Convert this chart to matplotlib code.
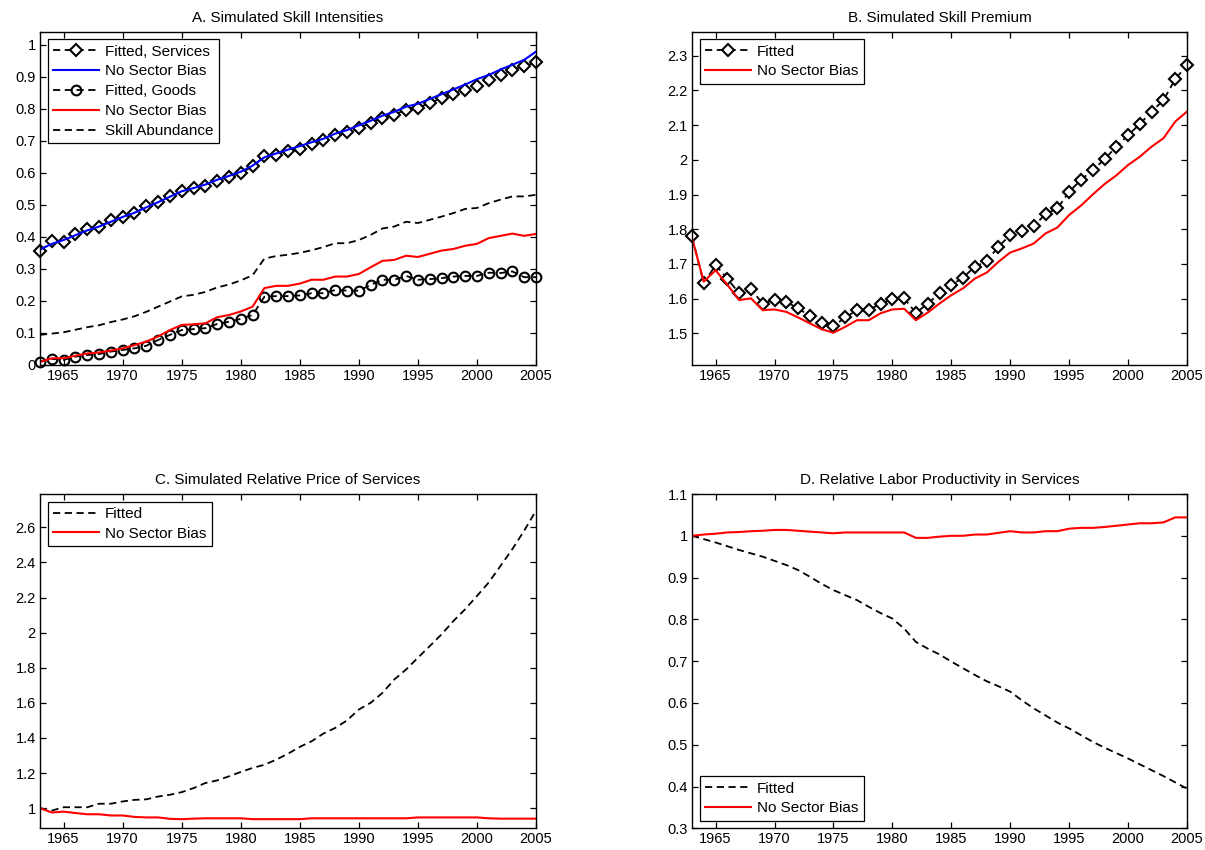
import numpy as np
import matplotlib
matplotlib.use("Agg")
import matplotlib.pyplot as plt
from matplotlib.ticker import FuncFormatter

plt.rcParams["font.family"] = "Liberation Sans"
plt.rcParams["font.size"] = 10.5
plt.rcParams["axes.linewidth"] = 1.0
plt.rcParams["xtick.direction"] = "in"
plt.rcParams["ytick.direction"] = "in"
plt.rcParams["xtick.top"] = True
plt.rcParams["ytick.right"] = True
plt.rcParams["xtick.major.size"] = 4
plt.rcParams["ytick.major.size"] = 4
plt.rcParams["xtick.labelsize"] = 10.5
plt.rcParams["ytick.labelsize"] = 10.5
plt.rcParams["legend.fontsize"] = 11

years = np.arange(1963, 2006)

# A. skill intensities
services_fit = [0.356, 0.387, 0.385, 0.408, 0.424, 0.432, 0.451, 0.461, 0.474, 0.495,
                0.508, 0.526, 0.542, 0.552, 0.559, 0.575, 0.588, 0.599, 0.620, 0.651,
                0.656, 0.667, 0.675, 0.690, 0.701, 0.719, 0.726, 0.740, 0.755, 0.771,
                0.781, 0.797, 0.802, 0.818, 0.833, 0.846, 0.859, 0.870, 0.890, 0.906,
                0.922, 0.932, 0.945]
services_nsb = [0.360, 0.378, 0.390, 0.405, 0.420, 0.432, 0.447, 0.462, 0.475, 0.492,
                0.508, 0.525, 0.542, 0.552, 0.563, 0.578, 0.590, 0.603, 0.622, 0.648,
                0.660, 0.672, 0.683, 0.695, 0.706, 0.722, 0.733, 0.748, 0.762, 0.778,
                0.790, 0.806, 0.815, 0.830, 0.845, 0.860, 0.875, 0.892, 0.905, 0.922,
                0.937, 0.952, 0.978]
goods_fit = [0.010, 0.019, 0.016, 0.026, 0.031, 0.034, 0.042, 0.047, 0.052, 0.060,
             0.078, 0.094, 0.109, 0.112, 0.115, 0.128, 0.135, 0.144, 0.156, 0.213,
             0.215, 0.215, 0.217, 0.224, 0.224, 0.234, 0.232, 0.232, 0.250, 0.266,
             0.266, 0.278, 0.266, 0.268, 0.271, 0.276, 0.278, 0.278, 0.288, 0.287,
             0.292, 0.274, 0.274]
goods_nsb = [0.010, 0.021, 0.021, 0.029, 0.036, 0.039, 0.045, 0.052, 0.062, 0.073,
             0.089, 0.109, 0.125, 0.127, 0.130, 0.149, 0.156, 0.167, 0.182, 0.240,
             0.247, 0.247, 0.254, 0.266, 0.266, 0.276, 0.276, 0.284, 0.305, 0.325,
             0.328, 0.341, 0.337, 0.347, 0.357, 0.362, 0.372, 0.378, 0.396, 0.403,
             0.410, 0.403, 0.409]
skill_abund = [0.094, 0.098, 0.102, 0.110, 0.118, 0.124, 0.134, 0.142, 0.152, 0.166,
               0.182, 0.198, 0.214, 0.219, 0.228, 0.242, 0.251, 0.264, 0.280, 0.332,
               0.340, 0.344, 0.350, 0.358, 0.368, 0.380, 0.380, 0.390, 0.406, 0.426,
               0.432, 0.447, 0.443, 0.453, 0.463, 0.474, 0.487, 0.490, 0.505, 0.516,
               0.526, 0.526, 0.531]

# B. skill premium
premium_fit = [1.780, 1.644, 1.697, 1.658, 1.615, 1.627, 1.586, 1.596, 1.591, 1.572,
               1.550, 1.531, 1.521, 1.546, 1.567, 1.567, 1.586, 1.598, 1.601, 1.559,
               1.586, 1.615, 1.639, 1.661, 1.692, 1.708, 1.750, 1.783, 1.796, 1.809,
               1.844, 1.860, 1.908, 1.942, 1.971, 2.001, 2.038, 2.071, 2.103, 2.139,
               2.172, 2.232, 2.273]
premium_nsb = [1.775, 1.649, 1.682, 1.640, 1.596, 1.601, 1.567, 1.569, 1.562, 1.546,
               1.529, 1.512, 1.502, 1.519, 1.538, 1.538, 1.558, 1.569, 1.571, 1.538,
               1.560, 1.586, 1.610, 1.630, 1.658, 1.675, 1.706, 1.733, 1.745, 1.759,
               1.788, 1.805, 1.841, 1.868, 1.900, 1.930, 1.955, 1.985, 2.009, 2.038,
               2.062, 2.110, 2.139]

# C. relative price of services
price_fit = [1.000, 0.986, 1.005, 1.005, 1.005, 1.025, 1.025, 1.038, 1.047, 1.050,
             1.066, 1.076, 1.091, 1.114, 1.143, 1.158, 1.181, 1.206, 1.229, 1.247,
             1.276, 1.310, 1.349, 1.381, 1.425, 1.457, 1.500, 1.562, 1.600, 1.657,
             1.733, 1.790, 1.857, 1.923, 1.990, 2.066, 2.133, 2.209, 2.286, 2.381,
             2.476, 2.581, 2.695]
price_nsb = [1.000, 0.975, 0.980, 0.972, 0.965, 0.965, 0.958, 0.958, 0.950, 0.947,
             0.947, 0.939, 0.937, 0.940, 0.942, 0.942, 0.942, 0.942, 0.937, 0.937,
             0.937, 0.937, 0.937, 0.942, 0.942, 0.942, 0.942, 0.942, 0.942, 0.942,
             0.942, 0.942, 0.947, 0.947, 0.947, 0.947, 0.947, 0.947, 0.942, 0.940,
             0.940, 0.940, 0.940]

# D. relative labor productivity
prod_fit = [1.000, 0.992, 0.984, 0.975, 0.966, 0.958, 0.950, 0.940, 0.930, 0.918,
            0.902, 0.885, 0.870, 0.858, 0.846, 0.830, 0.815, 0.802, 0.778, 0.746,
            0.730, 0.716, 0.699, 0.683, 0.667, 0.652, 0.640, 0.627, 0.606, 0.587,
            0.570, 0.553, 0.539, 0.523, 0.507, 0.493, 0.480, 0.467, 0.453, 0.439,
            0.425, 0.410, 0.395]
prod_nsb = [1.000, 1.003, 1.005, 1.008, 1.009, 1.011, 1.012, 1.014, 1.014, 1.012,
            1.010, 1.008, 1.006, 1.008, 1.008, 1.008, 1.008, 1.008, 1.008, 0.995,
            0.995, 0.998, 1.000, 1.000, 1.003, 1.003, 1.007, 1.011, 1.008, 1.008,
            1.011, 1.011, 1.017, 1.019, 1.019, 1.021, 1.024, 1.027, 1.030, 1.030,
            1.032, 1.044, 1.044]

dash = (0, (4, 2.5))
W, H = 1205., 850.

fig = plt.figure(figsize=(W/100, H/100), dpi=100)


def box(x0, y0, x1, y1):
    return [x0/W, 1 - y1/H, (x1 - x0)/W, (y1 - y0)/H]


ax1 = fig.add_axes(box(40, 31.7, 536, 365))
ax2 = fig.add_axes(box(692, 31.7, 1187, 365))
ax3 = fig.add_axes(box(40, 494, 536, 828.3))
ax4 = fig.add_axes(box(692, 494, 1187, 828.3))

leg_kw = dict(fancybox=False, framealpha=1, edgecolor="black", handlelength=3.0,
              handletextpad=0.4, labelspacing=0.38, borderpad=0.35, borderaxespad=0.5)

################ A ####################
ax1.plot(years, services_fit, color="k", linestyle=dash, lw=1.3, marker="D",
         markersize=6, mfc="white", mec="k", mew=1.5, clip_on=False,
         label="Fitted, Services")
ax1.plot(years, services_nsb, color="b", lw=1.5, label="No Sector Bias")
ax1.plot(years, goods_fit, color="k", linestyle=dash, lw=1.3, marker="o",
         markersize=7, mfc="none", mec="k", mew=1.5, clip_on=False,
         label="Fitted, Goods")
ax1.plot(years, goods_nsb, color="r", lw=1.5, label="No Sector Bias")
ax1.plot(years, skill_abund, color="k", linestyle=dash, lw=1.3, label="Skill Abundance")
ax1.set_ylim(0, 1.04)
ax1.set_yticks(np.arange(0, 1.01, 0.1))
ax1.set_title("A. Simulated Skill Intensities", fontsize=11, pad=7)
ax1.legend(loc="upper left", **leg_kw).get_frame().set_linewidth(0.9)

################ B ####################
ax2.plot(years, premium_fit, color="k", linestyle=dash, lw=1.3, marker="D",
         markersize=6, mfc="white", mec="k", mew=1.5, clip_on=False, label="Fitted")
ax2.plot(years, premium_nsb, color="r", lw=1.5, label="No Sector Bias")
ax2.set_ylim(1.409, 2.369)
ax2.set_yticks(np.arange(1.5, 2.31, 0.1))
ax2.set_title("B. Simulated Skill Premium", fontsize=11, pad=7)
ax2.legend(loc="upper left", **leg_kw).get_frame().set_linewidth(0.9)

################ C ####################
ax3.plot(years, price_fit, color="k", linestyle=dash, lw=1.3, label="Fitted")
ax3.plot(years, price_nsb, color="r", lw=1.5, label="No Sector Bias")
ax3.set_ylim(0.885, 2.79)
ax3.set_yticks(np.arange(1.0, 2.61, 0.2))
ax3.set_title("C. Simulated Relative Price of Services", fontsize=11, pad=7)
ax3.legend(loc="upper left", **leg_kw).get_frame().set_linewidth(0.9)

################ D ####################
ax4.plot(years, prod_fit, color="k", linestyle=dash, lw=1.3, label="Fitted")
ax4.plot(years, prod_nsb, color="r", lw=1.5, label="No Sector Bias")
ax4.set_ylim(0.3, 1.1)
ax4.set_yticks(np.arange(0.3, 1.11, 0.1))
ax4.set_title("D. Relative Labor Productivity in Services", fontsize=11, pad=7)
ax4.legend(loc="lower left", **leg_kw).get_frame().set_linewidth(0.9)

fmt = FuncFormatter(lambda v, p: "%g" % round(v, 2))
for ax in [ax1, ax2, ax3, ax4]:
    ax.set_xlim(1963, 2005)
    ax.set_xticks(np.arange(1965, 2006, 5))
    ax.yaxis.set_major_formatter(fmt)
    ax.tick_params(pad=3, width=0.9)

fig.savefig("out.png", dpi=100)
